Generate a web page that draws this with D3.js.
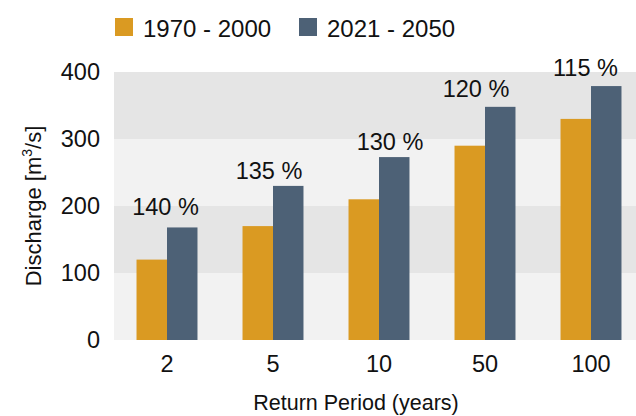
<!DOCTYPE html>
<html>
<head>
<meta charset="utf-8">
<script src="https://cdn.jsdelivr.net/npm/d3@7"></script>
<style>
  body { margin: 0; background: #fff; }
  svg { display: block; font-family: "Liberation Sans", Arial, sans-serif; }
</style>
</head>
<body>
<div id="chart"></div>
<script>
// data
const periods = ["2", "5", "10", "50", "100"];
const series = ["1970 - 2000", "2021 - 2050"];
const past = [120, 170, 210, 290, 330];
const future = [168, 230, 273, 348, 379];
const pctLabels = ["140 %", "135 %", "130 %", "120 %", "115 %"];
const yTicks = [0, 100, 200, 300, 400];

/** CONSTANTS */
const width = 636,
  height = 416,
  margin = { top: 72, bottom: 76, left: 114, right: -8 };
const colors = ["#da9a22", "#4d6176"];
const bandColors = ["#f2f2f2", "#e5e5e5"];
// small hand nudges for the percent labels (as in the original)
const labelDx = [-1.5, -4, 11, -9, -5.5],
  labelGap = [12, 7, 7, 10, 10];

const rows = periods.map((p, i) => ({ period: p, values: [past[i], future[i]], pct: pctLabels[i] }));

/** SCALES */
const x = d3.scaleBand()
  .domain(periods)
  .range([margin.left, width - margin.right])
  .paddingInner(0.425)
  .paddingOuter(0.2125);

const xSub = d3.scaleBand()
  .domain(d3.range(series.length))
  .range([0, x.bandwidth()]);

const y = d3.scaleLinear()
  .domain([0, 400])
  .range([height - margin.bottom, margin.top]);

const svg = d3.select("#chart")
  .append("svg")
  .attr("width", width)
  .attr("height", height);

// alternating background bands
svg.append("g")
  .selectAll("rect")
  .data(yTicks.slice(0, -1))
  .join("rect")
  .attr("x", margin.left)
  .attr("width", width - margin.left)
  .attr("y", d => y(d + 100))
  .attr("height", d => y(d) - y(d + 100))
  .attr("fill", (d, i) => bandColors[i % 2]);

// bars
const group = svg.append("g")
  .selectAll("g")
  .data(rows)
  .join("g")
  .attr("transform", d => `translate(${x(d.period)},0)`);

group.selectAll("rect")
  .data(d => d.values)
  .join("rect")
  .attr("x", (d, i) => xSub(i))
  .attr("width", xSub.bandwidth())
  .attr("y", d => y(d))
  .attr("height", d => y(0) - y(d))
  .attr("fill", (d, i) => colors[i]);

// percent labels
svg.append("g")
  .selectAll("text")
  .data(rows)
  .join("text")
  .attr("x", (d, i) => x(d.period) + x.bandwidth() / 2 + labelDx[i])
  .attr("y", (d, i) => y(d.values[1]) - labelGap[i])
  .attr("text-anchor", "middle")
  .attr("font-size", 23.5)
  .attr("fill", "#111")
  .text(d => d.pct);

// axes
const yAxis = d3.axisLeft(y).tickValues(yTicks).tickSize(0).tickPadding(14);
const xAxis = d3.axisBottom(x).tickSize(0).tickPadding(15);

svg.append("g")
  .attr("transform", `translate(${margin.left},0)`)
  .call(yAxis)
  .attr("font-family", null)
  .attr("font-size", null)
  .call(g => g.select(".domain").remove())
  .selectAll("text")
  .attr("font-size", 23.5)
  .attr("fill", "#111");

svg.append("g")
  .attr("transform", `translate(0,${y(0)})`)
  .call(xAxis)
  .attr("font-family", null)
  .attr("font-size", null)
  .call(g => g.select(".domain").remove())
  .selectAll("text")
  .attr("font-size", 23.5)
  .attr("fill", "#111");

// axis titles
svg.append("text")
  .attr("x", 356)
  .attr("y", 410)
  .attr("text-anchor", "middle")
  .attr("font-size", 21.5)
  .attr("fill", "#111")
  .text("Return Period (years)");

const yTitle = svg.append("text")
  .attr("transform", `translate(41,${(y(0) + y(400)) / 2}) rotate(-90)`)
  .attr("text-anchor", "middle")
  .attr("font-size", 22)
  .attr("fill", "#111");
yTitle.append("tspan").text("Discharge [m");
yTitle.append("tspan").attr("font-size", 14).attr("dy", -9).text("3");
yTitle.append("tspan").attr("dy", 9).text("/s]");

// legend
const legend = svg.append("g")
  .selectAll("g")
  .data(series)
  .join("g")
  .attr("transform", (d, i) => `translate(${115 + i * 184},18)`);

legend.append("rect")
  .attr("width", 18)
  .attr("height", 18)
  .attr("fill", (d, i) => colors[i]);

legend.append("text")
  .attr("x", 28)
  .attr("y", 18.5)
  .attr("font-size", 24)
  .attr("fill", "#111")
  .text(d => d);
</script>
</body>
</html>
